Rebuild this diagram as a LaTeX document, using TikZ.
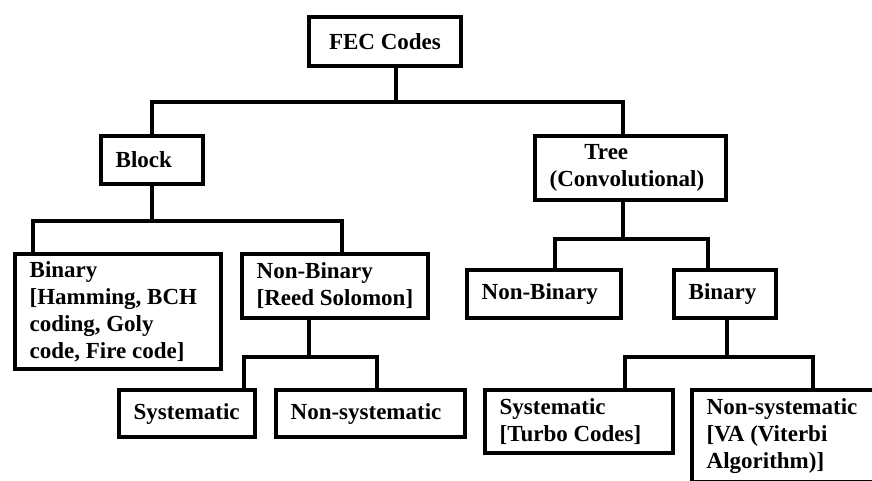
\documentclass[tikz,border=0pt]{standalone}
\usepackage{fontspec}
\setmainfont{Liberation Serif}
\tikzset{
  box/.style={draw=black, line width=3pt, inner sep=0pt, outer sep=0pt, line join=miter},
  boxtext/.style={inner xsep=11pt, inner ysep=0pt, outer sep=0pt,
    font=\bfseries\fontsize{17.25}{20.25}\selectfont},
  wire/.style={draw=black, line width=3pt, line join=miter}
}
% name, x1, y1, x2, y2, text
\newcommand\mybox[6]{%
  \pgfmathsetmacro\bw{(#4-#2)*0.75}%
  \pgfmathsetmacro\bh{(#5-#3)*0.75}%
  \node[box, minimum width=\bw pt, minimum height=\bh pt,
    label={[boxtext, anchor=west, align=left, name=#1-t]west:{#6}}] (#1) at ({(#2+#4)/2},{(#3+#5)/2}) {};}
\begin{document}
\begin{tikzpicture}[x=0.75pt,y=-0.75pt]
\useasboundingbox (0,0) rectangle (872,480);
\fill[white] (0,0) rectangle (872,480);
\clip (0,0) rectangle (872,480);
% boxes
\node[box, minimum width=114pt, minimum height=36.75pt, boxtext, inner sep=0pt] (fec) at (385,41.5) {FEC Codes};
\mybox{block}{101}{136}{203}{184}{Block}
\mybox{tree}{535}{136}{726}{200}{\hspace*{26pt}Tree\\(Convolutional)}
\mybox{binl}{15}{254}{221}{369}{Binary\\[0pt][Hamming, BCH\\coding, Goly\\code, Fire code]}
\mybox{nbl}{242}{254}{428}{318}{Non-Binary\\[0pt][Reed Solomon]}
\mybox{sysl}{119}{390}{255}{437}{Systematic}
\mybox{nsysl}{276}{390}{465}{437}{Non-systematic}
\mybox{nbr}{467}{270}{621}{318}{Non-Binary}
\mybox{binr}{674}{270}{776}{318}{Binary}
\mybox{sysr}{485}{390}{673}{453}{Systematic\\[0pt][Turbo Codes]}
\mybox{nsysr}{692}{390}{890}{482}{Non-systematic\\[0pt][VA (Viterbi\\Algorithm)]}
% bus coordinates
\coordinate (c1) at (396,102);
\coordinate (c1l) at (152,102);
\coordinate (c1r) at (623,102);
\coordinate (c2l) at (152,221);
\coordinate (c2ll) at (33,221);
\coordinate (c2lr) at (342,221);
\coordinate (c2r) at (623,239);
\coordinate (c2rl) at (555,239);
\coordinate (c2rr) at (708,239);
\coordinate (c3l) at (309,357);
\coordinate (c3ll) at (244,357);
\coordinate (c3lr) at (377,357);
\coordinate (c3r) at (727,357);
\coordinate (c3rl) at (625,357);
\coordinate (c3rr) at (813,357);
% connectors
\draw[wire] (c1 |- fec.south) -- (c1);
\draw[wire] (block.north) -- (c1l) -- (c1r) -- (c1r |- tree.north);
\draw[wire] (block.south) -- (c2l);
\draw[wire] (c2ll |- binl.north) -- (c2ll) -- (c2lr) -- (c2lr |- nbl.north);
\draw[wire] (c2r |- tree.south) -- (c2r);
\draw[wire] (c2rl |- nbr.north) -- (c2rl) -- (c2rr) -- (c2rr |- binr.north);
\draw[wire] (c3l |- nbl.south) -- (c3l);
\draw[wire] (c3ll |- sysl.north) -- (c3ll) -- (c3lr) -- (c3lr |- nsysl.north);
\draw[wire] (c3r |- binr.south) -- (c3r);
\draw[wire] (c3rl |- sysr.north) -- (c3rl) -- (c3rr) -- (c3rr |- nsysr.north);
\end{tikzpicture}
\end{document}
